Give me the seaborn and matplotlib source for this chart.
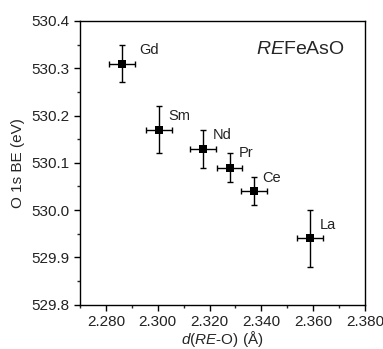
import matplotlib
matplotlib.use("Agg")
import matplotlib.pyplot as plt
from matplotlib.ticker import MultipleLocator, FormatStrFormatter
import seaborn as sns
import pandas as pd

elements = ["Gd", "Sm", "Nd", "Pr", "Ce", "La"]
d_reo = [2.2863, 2.3005, 2.3175, 2.3277, 2.3373, 2.3589]
d_err = [0.005, 0.005, 0.005, 0.005, 0.005, 0.005]
o1s_be = [530.31, 530.17, 530.13, 530.09, 530.04, 529.94]
be_err = [0.04, 0.05, 0.04, 0.03, 0.03, 0.06]
label_x = [2.2928, 2.3040, 2.3212, 2.3311, 2.3403, 2.3624]
label_y = [530.339, 530.198, 530.158, 530.120, 530.068, 529.968]

df = pd.DataFrame({"d": d_reo, "be": o1s_be})

sns.set_style("ticks")
plt.rcParams["font.family"] = ["Liberation Sans", "DejaVu Sans"]
plt.rcParams["mathtext.fontset"] = "custom"
plt.rcParams["mathtext.rm"] = "Liberation Sans"
plt.rcParams["mathtext.it"] = "Liberation Sans:italic"

fig = plt.figure(figsize=(3.83, 3.49), dpi=100)
ax = fig.add_axes([0.209, 0.127, 0.744, 0.813])

ax.errorbar(d_reo, o1s_be, xerr=d_err, yerr=be_err, fmt="none",
            ecolor="black", elinewidth=1.0, capsize=2.5, capthick=1.0, zorder=2)
sns.scatterplot(data=df, x="d", y="be", marker="s", s=40, color="black",
                edgecolor="black", linewidth=0, ax=ax, zorder=3)

for name, lx, ly in zip(elements, label_x, label_y):
    ax.text(lx, ly, name, fontsize=10.5, ha="left", va="center", color="#222222")

ax.text(0.93, 0.898, r"$\it{RE}$FeAsO", transform=ax.transAxes, fontsize=14,
        ha="right", va="center")

ax.set_xlim(2.270, 2.380)
ax.set_ylim(529.8, 530.4)
ax.xaxis.set_major_locator(MultipleLocator(0.02))
ax.xaxis.set_minor_locator(MultipleLocator(0.01))
ax.yaxis.set_major_locator(MultipleLocator(0.1))
ax.yaxis.set_minor_locator(MultipleLocator(0.05))
ax.xaxis.set_major_formatter(FormatStrFormatter("%.3f"))
ax.yaxis.set_major_formatter(FormatStrFormatter("%.1f"))
ax.tick_params(which="major", direction="out", length=4, width=1, labelsize=11,
               colors="black", labelcolor="#222222")
ax.tick_params(which="minor", direction="out", length=2.5, width=1)
for s in ax.spines.values():
    s.set_linewidth(1.0)
    s.set_color("black")

ax.set_xlabel(r"$\it{d}$($\it{RE}$-O) (Å)", fontsize=11, labelpad=0)
ax.set_ylabel("O 1s BE (eV)", fontsize=11, labelpad=5)

fig.savefig("out.png", dpi=100)
